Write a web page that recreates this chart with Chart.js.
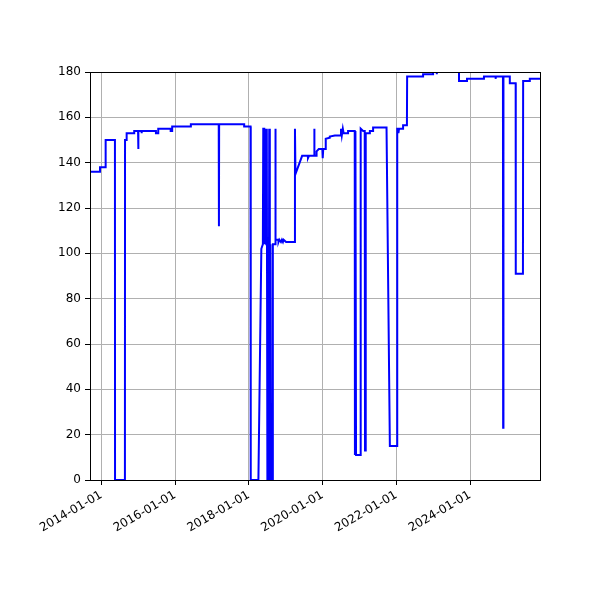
<!DOCTYPE html>
<html>
<head>
<meta charset="utf-8">
<script src="https://cdn.jsdelivr.net/npm/chart.js@4/dist/chart.umd.min.js"></script>
<style>
  body { margin: 0; background: #fff; }
</style>
</head>
<body>
<canvas id="lineChart" width="600" height="600"></canvas>
<script>
// Series (dates and values in parallel)
const dates = [
    '2013-09-11', '2013-12-19', '2013-12-19', '2014-02-13', '2014-02-13', '2014-05-16',
    '2014-05-17', '2014-08-23', '2014-08-24', '2014-09-09', '2014-09-09', '2014-11-23',
    '2014-11-23', '2014-12-31', '2015-01-02', '2015-01-04', '2015-02-03', '2015-02-04',
    '2015-02-06', '2015-06-26', '2015-06-26', '2015-07-19', '2015-07-19', '2015-11-19',
    '2015-11-19', '2015-12-04', '2015-12-04', '2016-06-06', '2016-06-06', '2017-03-09',
    '2017-03-11', '2017-03-13', '2017-11-16', '2017-11-16', '2018-01-18', '2018-01-20',
    '2018-04-06', '2018-05-05', '2018-05-20', '2018-05-24', '2018-06-03', '2018-06-08',
    '2018-06-15', '2018-06-23', '2018-06-28', '2018-07-04', '2018-07-10', '2018-07-16',
    '2018-07-22', '2018-07-28', '2018-08-03', '2018-08-09', '2018-08-22', '2018-08-27',
    '2018-09-19', '2018-09-21', '2018-09-24', '2018-10-20', '2018-10-22', '2018-10-30',
    '2018-11-15', '2018-11-25', '2018-12-05', '2018-12-12', '2019-01-05', '2019-04-01',
    '2019-04-03', '2019-04-08', '2019-06-13', '2019-08-08', '2019-08-10', '2019-08-20',
    '2019-10-09', '2019-10-11', '2019-10-14', '2019-11-03', '2019-11-03', '2019-11-25',
    '2019-12-30', '2020-01-03', '2020-01-08', '2020-02-02', '2020-02-02', '2020-03-13',
    '2020-03-13', '2020-05-02', '2020-06-30', '2020-07-02', '2020-07-10', '2020-07-20',
    '2020-07-28', '2020-09-10', '2020-09-10', '2020-11-15', '2020-11-17', '2020-11-22',
    '2020-11-28', '2021-01-11', '2021-01-13', '2021-02-06', '2021-02-22', '2021-02-25',
    '2021-03-04', '2021-04-14', '2021-04-14', '2021-05-16', '2021-05-16', '2021-09-26',
    '2021-10-29', '2022-01-08', '2022-01-10', '2022-01-20', '2022-01-22', '2022-01-28',
    '2022-03-09', '2022-03-09', '2022-04-16', '2022-04-18', '2022-09-23', '2022-09-23',
    '2022-12-31', '2022-12-31', '2023-02-04', '2023-02-06', '2023-02-08', '2023-09-14',
    '2023-09-14', '2023-12-02', '2023-12-02', '2024-05-18', '2024-05-18', '2024-09-09',
    '2024-09-11', '2024-09-13', '2024-11-22', '2024-11-24', '2024-11-27', '2025-01-29',
    '2025-01-29', '2025-03-28', '2025-03-29', '2025-06-08', '2025-06-10', '2025-08-15',
    '2025-08-15', '2025-11-24'
];
const values = [
    136, 136, 138, 138, 150, 150,
    0, 0, 150, 150, 153, 153,
    154, 154, 146, 154, 154, 153,
    154, 154, 153, 153, 155, 155,
    154, 154, 156, 156, 157, 157,
    112, 157, 157, 156, 156, 0,
    0, 102, 104, 155, 155, 104,
    155, 104, 155, 0, 104, 0,
    155, 0, 104, 0, 0, 104,
    104, 155, 106, 106, 105, 106,
    105, 106, 105, 106, 105, 105,
    155, 135, 143, 143, 142, 143,
    143, 155, 143, 143, 145, 146,
    146, 142, 146, 146, 150.5, 151,
    151.5, 152, 152, 155, 152, 155,
    153, 153, 154, 154, 11, 154,
    11, 11, 155, 154, 154, 13,
    153, 153, 154, 154, 155.5, 155.5,
    15, 15, 155, 155, 153, 155,
    155, 156.5, 156.5, 178, 178, 179,
    179, 182, 182, 179, 182, 182,
    176, 176, 177, 177, 178, 178,
    177, 178, 178, 23, 178, 178,
    175, 175, 91, 91, 176, 176,
    177, 177
];

const tickDates = ['2014-01-01', '2016-01-01', '2018-01-01', '2020-01-01', '2022-01-01', '2024-01-01'];
const xStart = '2013-09-11';
const xEnd = '2025-11-24';
const yMin = 0;
const yMax = 180;
const yStep = 20;

const points = dates.map((d, i) => ({ x: Date.parse(d), y: values[i] }));

// matplotlib style box around the plot area
const framePlugin = {
    id: 'frame',
    afterDraw(chart) {
        const { ctx, chartArea: a } = chart;
        ctx.save();
        ctx.strokeStyle = '#000';
        ctx.lineWidth = 1;
        ctx.strokeRect(a.left + 0.5, a.top + 0.5, a.right - a.left, a.bottom - a.top);
        ctx.restore();
    }
};

const tickFont = { family: 'DejaVu Sans', size: 12 };

new Chart(document.getElementById('lineChart').getContext('2d'), {
    type: 'line',
    data: {
        datasets: [{
            data: points,
            borderColor: '#0000ff',
            borderWidth: 2,
            pointRadius: 0,
            tension: 0,
            fill: false
        }]
    },
    options: {
        responsive: false,
        animation: false,
        layout: { padding: { left: 0, top: 72, right: 60, bottom: 0 } },
        plugins: {
            legend: { display: false },
            tooltip: { enabled: false }
        },
        scales: {
            x: {
                type: 'linear',
                min: Date.parse(xStart),
                max: Date.parse(xEnd),
                afterBuildTicks: axis => {
                    axis.ticks = tickDates.map(d => ({ value: Date.parse(d) }));
                },
                afterFit: axis => { axis.height = 120; },
                grid: { color: '#b0b0b0', lineWidth: 1, tickColor: '#000', tickLength: 5 },
                border: { display: false },
                ticks: {
                    color: '#000',
                    font: tickFont,
                    maxRotation: 30,
                    minRotation: 30,
                    padding: 3,
                    autoSkip: false,
                    callback: v => new Date(v).toISOString().slice(0, 10)
                }
            },
            y: {
                min: yMin,
                max: yMax,
                afterFit: axis => { axis.width = 90; },
                grid: { color: '#b0b0b0', lineWidth: 1, tickColor: '#000', tickLength: 5 },
                border: { display: false },
                ticks: {
                    stepSize: yStep,
                    color: '#000',
                    font: tickFont,
                    padding: 4
                }
            }
        }
    },
    plugins: [framePlugin]
});
</script>
</body>
</html>
